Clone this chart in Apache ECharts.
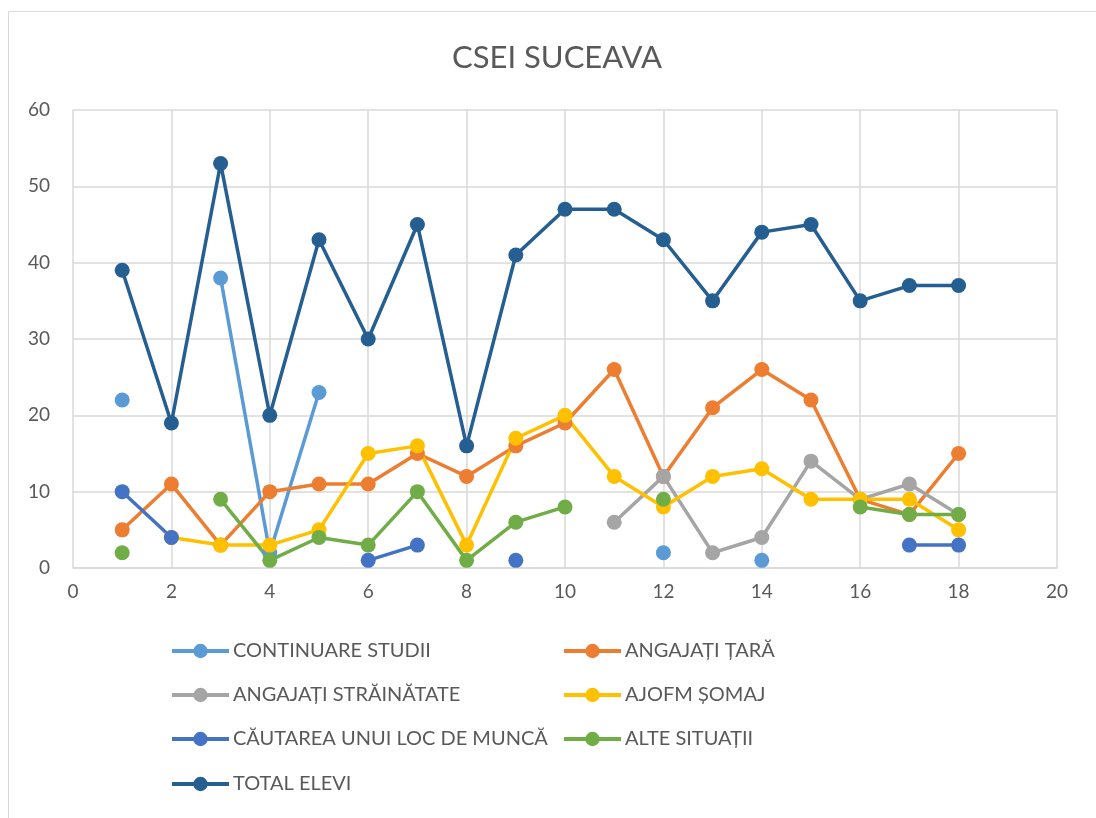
<!DOCTYPE html>
<html>
<head>
<meta charset="utf-8">
<script src="https://cdn.jsdelivr.net/npm/echarts@6/dist/echarts.min.js"></script>
<style>
  html, body { margin: 0; padding: 0; background: #fff; overflow: hidden; }
  #frame {
    position: absolute; left: 8px; top: 11px; width: 1200px; height: 900px;
    border: 1px solid #d9d9d9; box-sizing: border-box;
  }
  #main { position: absolute; left: 0; top: 0; width: 1096px; height: 818px; }
</style>
</head>
<body>
<div id="frame"></div>
<div id="main"></div>
<script>
// x values 1..18, null = no value
var xs = [1, 2, 3, 4, 5, 6, 7, 8, 9, 10, 11, 12, 13, 14, 15, 16, 17, 18];
var continuareStudii = [22, null, 38, 2, 23, null, null, null, null, null, null, 2, null, 1, null, null, null, null];
var angajatiTara = [5, 11, 3, 10, 11, 11, 15, 12, 16, 19, 26, 12, 21, 26, 22, 9, 7, 15];
var angajatiStrainatate = [null, null, null, null, null, null, null, null, null, null, 6, 12, 2, 4, 14, 9, 11, 7];
var ajofmSomaj = [null, 4, 3, 3, 5, 15, 16, 3, 17, 20, 12, 8, 12, 13, 9, 9, 9, 5];
var cautareaLoc = [10, 4, null, null, null, 1, 3, null, 1, null, null, null, null, null, null, null, 3, 3];
var alteSituatii = [2, null, 9, 1, 4, 3, 10, 1, 6, 8, null, 9, null, null, null, 8, 7, 7];
var totalElevi = [39, 19, 53, 20, 43, 30, 45, 16, 41, 47, 47, 43, 35, 44, 45, 35, 37, 37];

var seriesNames = ['CONTINUARE STUDII', 'ANGAJAȚI ȚARĂ', 'ANGAJAȚI STRĂINĂTATE', 'AJOFM ȘOMAJ',
  'CĂUTAREA UNUI LOC DE MUNCĂ', 'ALTE SITUAȚII', 'TOTAL ELEVI'];
var seriesValues = [continuareStudii, angajatiTara, angajatiStrainatate, ajofmSomaj, cautareaLoc, alteSituatii, totalElevi];
var colors = ['#5B9BD5', '#ED7D31', '#A5A5A5', '#FFC000', '#4472C4', '#70AD47', '#255E91'];

var font = 'Lato, "Liberation Sans", sans-serif';
var textColor = '#595959';
var gridColor = '#d9d9d9';

function pairs(vals) {
  return xs.map(function (x, i) { return [x, vals[i] == null ? '-' : vals[i]]; });
}

var series = seriesNames.map(function (name, i) {
  return {
    name: name,
    type: 'line',
    data: pairs(seriesValues[i]),
    symbol: 'circle',
    symbolSize: 15,
    showSymbol: true,
    showAllSymbol: true,
    connectNulls: false,
    animation: false,
    lineStyle: { width: 3.5, color: colors[i] },
    itemStyle: { color: colors[i] }
  };
});

// legend: two columns, one legend component per item
var legendPos = [
  [170, 641], [562, 641],
  [170, 685], [562, 685],
  [170, 729], [562, 729],
  [170, 774]
];
var legends = seriesNames.map(function (name, i) {
  return {
    data: [name],
    left: legendPos[i][0],
    top: legendPos[i][1],
    itemWidth: 57,
    itemHeight: 18,
    itemGap: 0,
    padding: 0,
    selectedMode: false,
    lineStyle: { width: 4 },
    textStyle: { color: textColor, fontSize: 20, fontFamily: font, padding: [0, 0, 0, -1] }
  };
});

var chart = echarts.init(document.getElementById('main'), null, { renderer: 'canvas' });
chart.setOption({
  backgroundColor: 'transparent',
  color: colors,
  title: {
    text: 'CSEI SUCEAVA',
    left: 447,
    top: 37,
    textStyle: { color: textColor, fontSize: 31, fontWeight: 'normal', fontFamily: font }
  },
  legend: legends,
  grid: { left: 73, right: 39, top: 110, bottom: 250, containLabel: false },
  xAxis: {
    type: 'value',
    min: 0,
    max: 20,
    interval: 2,
    axisLine: { show: true, lineStyle: { color: gridColor, width: 1.5 } },
    axisTick: { show: false },
    splitLine: { show: true, lineStyle: { color: gridColor, width: 1.5 } },
    axisLabel: { color: textColor, fontSize: 19, fontFamily: font, margin: 14 }
  },
  yAxis: {
    type: 'value',
    min: 0,
    max: 60,
    interval: 10,
    axisLine: { show: false },
    axisTick: { show: false },
    splitLine: { show: true, lineStyle: { color: gridColor, width: 1.5 } },
    axisLabel: { color: textColor, fontSize: 19, fontFamily: font, margin: 23 }
  },
  series: series
});
</script>
</body>
</html>
